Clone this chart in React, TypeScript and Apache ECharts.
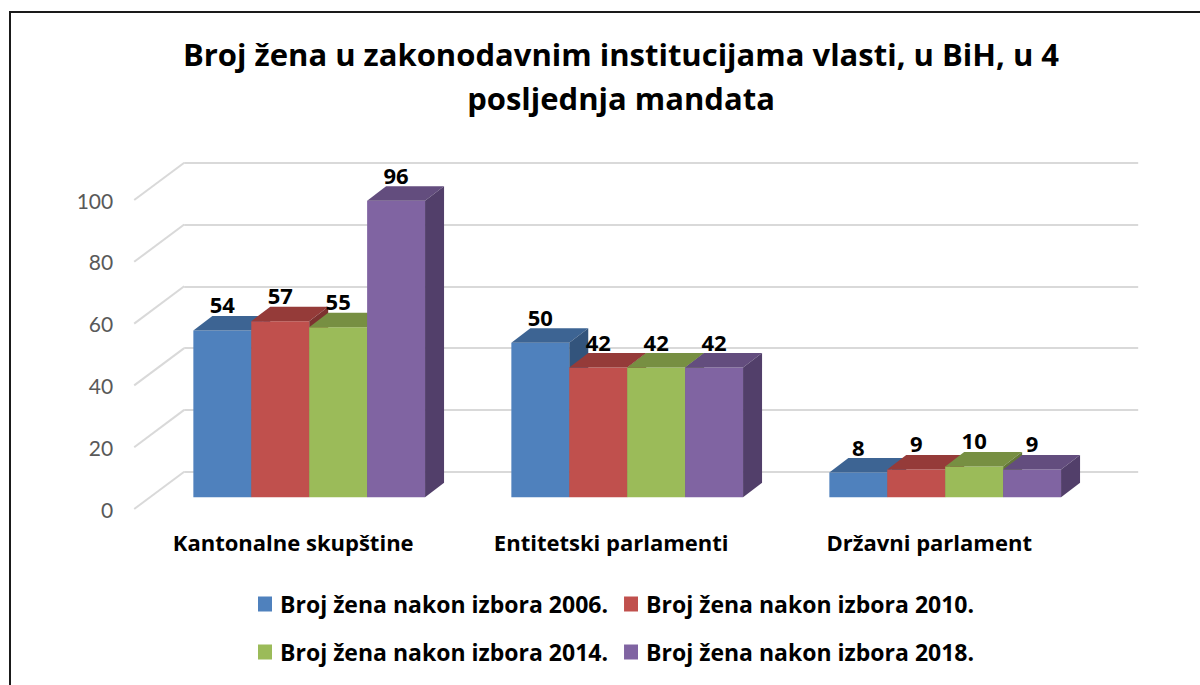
import React, { useEffect, useRef } from "react";
import * as echarts from "echarts";

const categories = ["Kantonalne skupštine", "Entitetski parlamenti", "Državni parlament"];
const seriesNames = [
  "Broj žena nakon izbora 2006.",
  "Broj žena nakon izbora 2010.",
  "Broj žena nakon izbora 2014.",
  "Broj žena nakon izbora 2018.",
];
const values2006 = [54, 50, 8];
const values2010 = [57, 42, 9];
const values2014 = [55, 42, 10];
const values2018 = [96, 42, 9];
const allValues = [values2006, values2010, values2014, values2018];
const yTicks = [0, 20, 40, 60, 80, 100];

const colors = ["#4F81BD", "#C0504D", "#9BBB59", "#8064A2"];
const topColors = ["#3D6493", "#953B39", "#778F42", "#634D7E"];
const sideColors = ["#33547C", "#7D3230", "#647837", "#523F6A"];

const FONT = "Lato, 'Noto Sans', sans-serif";
const BFONT = "'Open Sans', 'Noto Sans', sans-serif";
const DX = 19;
const DY = 14.5;

export default function App() {
  const ref = useRef<HTMLDivElement>(null);
  useEffect(() => {
    if (!ref.current) return;
    const chart = echarts.init(ref.current, undefined, { renderer: "svg" });

    const barSeries = allValues.map((vals, s) => ({
      type: "custom",
      name: seriesNames[s],
      xAxisIndex: 0,
      yAxisIndex: 0,
      itemStyle: { color: colors[s] },
      data: vals.map((v, i) => [i, v]),
      renderItem: (params: any, api: any) => {
        const ci = api.value(0);
        const v = api.value(1);
        const base = api.coord([ci, 0]);
        const top = api.coord([ci, v]);
        const band = api.size([1, 0])[0];
        const gw = band * 0.7286;
        const bw = gw / 4;
        const x0 = base[0] - gw / 2 + s * bw;
        const x1 = x0 + bw;
        const yt = top[1];
        const yb = base[1];
        return {
          type: "group",
          children: [
            {
              type: "rect",
              shape: { x: x0, y: yt, width: bw, height: yb - yt },
              style: { fill: colors[s] },
            },
            {
              type: "polygon",
              shape: { points: [[x0, yt], [x1, yt], [x1 + DX, yt - DY], [x0 + DX, yt - DY]] },
              style: { fill: topColors[s] },
            },
            {
              type: "polygon",
              shape: { points: [[x1, yt], [x1 + DX, yt - DY], [x1 + DX, yb - DY], [x1, yb]] },
              style: { fill: sideColors[s] },
            },
            {
              type: "text",
              style: {
                text: String(v),
                x: x0 + bw / 2,
                y: yt - 26,
                align: "center",
                verticalAlign: "middle",
                font: `bold 22px ${BFONT}`,
                fill: "#000",
              },
            },
          ],
        };
      },
    }));

    const diagSeries = {
      type: "custom",
      xAxisIndex: 1,
      yAxisIndex: 1,
      silent: true,
      data: yTicks.map((v) => [0, v]),
      renderItem: (params: any, api: any) => {
        const p = api.coord([0, api.value(1)]);
        const x = params.coordSys.x;
        return {
          type: "line",
          shape: { x1: x - 50, y1: p[1] + 37.3, x2: x, y2: p[1] },
          style: { stroke: "#d9d9d9", lineWidth: 2 },
        };
      },
    };

    const legendText = { fontFamily: BFONT, fontWeight: "bold", fontSize: 23, color: "#000", padding: [0, 0, 0, 3] };
    const legendBase = {
      left: 258,
      padding: 0,
      icon: "rect",
      itemWidth: 14,
      itemHeight: 15,
      itemGap: 16,
      textStyle: legendText,
    };

    const option: any = {
      animation: false,
      backgroundColor: "#fff",
      title: {
        text: "Broj žena u zakonodavnim institucijama vlasti, u BiH, u 4\nposljednja mandata",
        left: 616,
        top: 27,
        textAlign: "center",
        textStyle: {
          fontFamily: BFONT,
          fontWeight: "bold",
          fontSize: 31,
          lineHeight: 44,
          color: "#000",
        },
      },
      legend: [
        { ...legendBase, data: seriesNames.slice(0, 2), top: 592.5 },
        { ...legendBase, data: seriesNames.slice(2, 4), top: 640.5 },
      ],
      grid: [
        { left: 150.2, top: 188.3, width: 954, height: 309 },
        { left: 184.2, top: 162.7, width: 954, height: 309 },
        { left: 134.2, top: 200, width: 954, height: 309 },
      ],
      xAxis: [
        { type: "category", gridIndex: 0, data: categories, show: false },
        { type: "category", gridIndex: 1, data: categories, show: false },
        {
          type: "category",
          gridIndex: 2,
          data: categories,
          axisLine: { show: false },
          axisTick: { show: false },
          axisLabel: {
            margin: 22,
            fontFamily: BFONT,
            fontWeight: "bold",
            fontSize: 22,
            color: "#000",
          },
        },
      ],
      yAxis: [
        { type: "value", gridIndex: 0, min: 0, max: 100, interval: 20, show: false },
        {
          type: "value",
          gridIndex: 1,
          min: 0,
          max: 100,
          interval: 20,
          axisLabel: { show: false },
          axisLine: { show: false },
          axisTick: { show: false },
          splitLine: { show: true, lineStyle: { color: "#d9d9d9", width: 2 } },
        },
        {
          type: "value",
          gridIndex: 2,
          min: 0,
          max: 100,
          interval: 20,
          axisLine: { show: false },
          axisTick: { show: false },
          splitLine: { show: false },
          axisLabel: { margin: 21, fontFamily: FONT, fontSize: 21, color: "#595959" },
        },
      ],
      graphic: [
        {
          type: "rect",
          shape: { x: 10, y: 12, width: 1200, height: 700 },
          style: { fill: "none", stroke: "#1a1a1a", lineWidth: 2 },
          z: 100,
        },
      ],
      series: [diagSeries, ...barSeries],
    };
    chart.setOption(option);
    return () => chart.dispose();
  }, []);
  return <div ref={ref} style={{ position: "fixed", left: 0, top: 0, width: 1200, height: 685 }} />;
}
